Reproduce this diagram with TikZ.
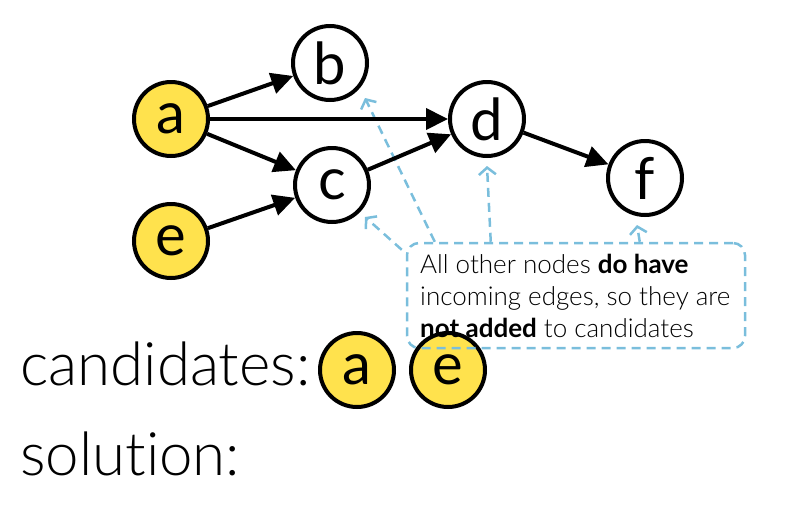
\documentclass[tikz,border=0pt]{standalone}
\usepackage{fontspec}
\setmainfont{Lato Light}[BoldFont=Lato Bold, Ligatures=CommonOff]
\newfontfamily\letterfont{Lato}
\usetikzlibrary{arrows.meta,positioning}
\definecolor{nodeyellow}{RGB}{255,226,77}
\definecolor{hintblue}{RGB}{122,190,220}

\begin{document}
\begin{tikzpicture}[
    x=1pt, y=-1pt,
    vertex/.style={circle, draw, line width=4pt, minimum size=74pt, inner sep=0pt, font=\fontsize{58}{60}\letterfont},
    source/.style={vertex, fill=nodeyellow},
    arrow/.style={-{Triangle[length=22pt,width=21pt]}, line width=4pt},
    hint/.style={-{Straight Barb[length=7pt,width=17pt]}, draw=hintblue, line width=2.5pt, dash pattern=on 9pt off 6pt},
    note/.style={draw=hintblue, line width=2.5pt, dash pattern=on 9pt off 6pt, rounded corners=12pt,
        minimum width=338pt, minimum height=105pt},
    notetext/.style={anchor=base west, inner sep=0pt, align=left, font=\fontsize{26}{32}\selectfont},
    label/.style={anchor=base west, inner sep=0pt, font=\fontsize{60}{72}\selectfont}
]
    \useasboundingbox (0,0) rectangle (800,517);

    % Graph
    \node[source] (a) at (171,119) {a};
    \node[source] (e) at (171,241) {e};
    \node[vertex] (b) at (330,63) {b};
    \node[vertex] (c) at (332,185) {c};
    \node[vertex] (d) at (487,119) {d};
    \node[vertex] (f) at (645,178) {f};

    % Candidates and solution
    \node[label] (cand) at (20,385) {candidates:};
    \node[source] (cand a) at (357,370) {a};
    \node[source] (cand e) at (448,370) {e};
    \node[label] (sol) at (20,475) {solution:};

    % Note
    \node[note] (note) at (576,295.5) {};
    \node[notetext] (note text) at (420,337) {All other nodes \textbf{do have}\\incoming edges, so they are\\\textbf{not added} to candidates};
    \coordinate (tip b) at (365,98);
    \coordinate (tip c) at (365,217);
    \coordinate (tip d) at (487,166);
    \coordinate (tip f) at (637,225);
    \draw[hint] ([xshift=29pt]note.north west) -- (tip b);
    \draw[hint] ([shift={(-4pt,-8pt)}]note.north west) -- (tip c);
    \draw[hint] ([xshift=85pt]note.north west) -- (tip d);
    \draw[hint] ([xshift=234pt]note.north west) -- (tip f);

    % Edges
    \draw[arrow] (a) -- (b);
    \draw[arrow] (a) -- (d);
    \draw[arrow] (a) -- (c);
    \draw[arrow] (e) -- (c);
    \draw[arrow] (c) -- (d);
    \draw[arrow] (d) -- (f);
\end{tikzpicture}
\end{document}
